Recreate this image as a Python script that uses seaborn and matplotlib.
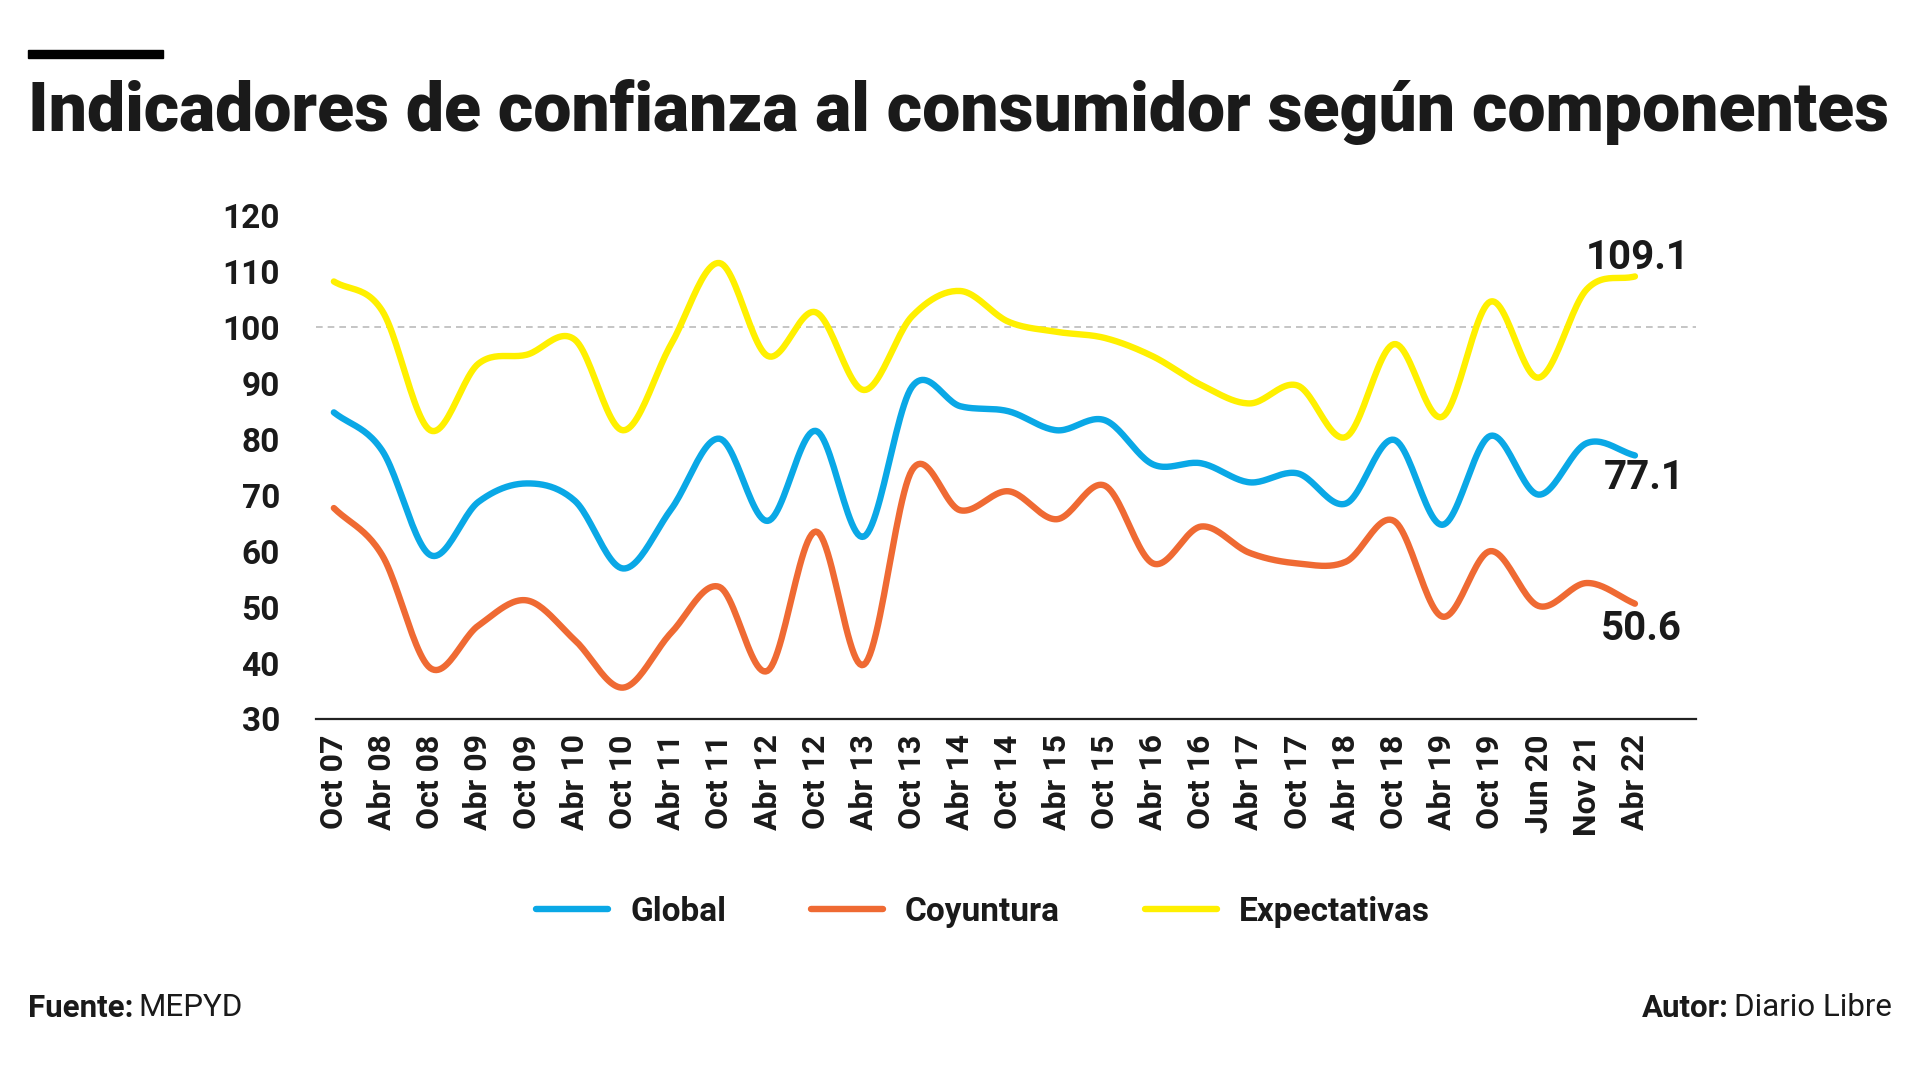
import matplotlib
matplotlib.use('Agg')
import matplotlib.pyplot as plt
import numpy as np
import pandas as pd
import seaborn as sns

periodos = ["Oct 07", "Abr 08", "Oct 08", "Abr 09", "Oct 09", "Abr 10", "Oct 10",
            "Abr 11", "Oct 11", "Abr 12", "Oct 12", "Abr 13", "Oct 13", "Abr 14",
            "Oct 14", "Abr 15", "Oct 15", "Abr 16", "Oct 16", "Abr 17", "Oct 17",
            "Abr 18", "Oct 18", "Abr 19", "Oct 19", "Jun 20", "Nov 21", "Abr 22"]

global_ = [84.8, 78.0, 59.3, 68.8, 72.1, 69.0, 56.9, 67.5, 80.1, 65.4, 81.5, 62.6, 89.4, 85.9,
           85.0, 81.6, 83.4, 75.5, 75.7, 72.3, 73.9, 68.5, 79.9, 64.7, 80.6, 70.1, 79.3, 77.1]
coyuntura = [67.7, 59.3, 39.1, 46.7, 51.2, 44.1, 35.6, 45.4, 53.6, 38.6, 63.5, 39.7, 74.5, 67.3,
             70.7, 65.7, 71.7, 57.8, 64.4, 59.7, 57.8, 58.1, 65.4, 48.3, 60.0, 50.2, 54.3, 50.6]
expectativas = [108.2, 103.0, 81.6, 93.5, 95.1, 97.8, 81.6, 97.0, 111.5, 94.9, 102.7, 88.8, 102.0, 106.5,
                101.0, 99.2, 98.1, 94.8, 89.7, 86.4, 89.6, 80.4, 97.0, 84.0, 104.6, 91.0, 106.8, 109.1]

series = {"Global": global_, "Coyuntura": coyuntura, "Expectativas": expectativas}
colores = {"Global": "#0AA8E6", "Coyuntura": "#EF6A33", "Expectativas": "#FFF000"}

FONT = ['Roboto', 'DejaVu Sans']
W, H = 1920, 1080


def suavizar(y, n=24):
	# curva tipo spline (Catmull-Rom) solo para el trazo
	y = np.asarray(y, dtype=float)
	yp = np.concatenate([[2 * y[0] - y[1]], y, [2 * y[-1] - y[-2]]])
	xs, ys = [], []
	for i in range(len(y) - 1):
		p0, p1, p2, p3 = yp[i], yp[i + 1], yp[i + 2], yp[i + 3]
		t = np.linspace(0, 1, n, endpoint=False)
		m1 = (p2 - p0) / 2
		m2 = (p3 - p1) / 2
		h00 = 2 * t**3 - 3 * t**2 + 1
		h10 = t**3 - 2 * t**2 + t
		h01 = -2 * t**3 + 3 * t**2
		h11 = t**3 - t**2
		xs.append(i + t)
		ys.append(h00 * p1 + h10 * m1 + h01 * p2 + h11 * m2)
	xs.append([len(y) - 1])
	ys.append([y[-1]])
	return np.concatenate(xs), np.concatenate(ys)


sns.set_style('white')
plt.rcParams['font.family'] = FONT

fig = plt.figure(figsize=(19.2, 10.8), dpi=100)
ax = fig.add_axes([0.1646, 0.3343, 0.7188, 0.4662])
renderer = fig.canvas.get_renderer()

ax.axhline(100, color='#bbbbbb', lw=1.2, ls=(0, (4, 3)), zorder=1)

for nombre, vals in series.items():
	xs, ys = suavizar(vals)
	df = pd.DataFrame({'x': xs, 'y': ys})
	sns.lineplot(data=df, x='x', y='y', ax=ax, color=colores[nombre], lw=4.6,
	             sort=False, estimator=None, label=nombre, zorder=3,
	             solid_capstyle='round')

ax.set_xlim(-0.37, 28.27)
ax.set_ylim(30, 120)
ax.set_yticks(range(30, 121, 10))
ax.set_yticklabels([str(v) for v in range(30, 121, 10)], fontsize=24, fontweight='bold', color='#1a1a1a')
ax.set_xticks(range(len(periodos)))
ax.set_xticklabels(periodos, rotation=90, fontsize=23, fontweight='bold', color='#1a1a1a', va='top')
ax.tick_params(axis='y', length=0, pad=26)
ax.tick_params(axis='x', length=0, pad=11)
ax.set_xlabel('')
ax.set_ylabel('')
for s in ['top', 'right', 'left']:
	ax.spines[s].set_visible(False)
ax.spines['bottom'].set_color('#222222')
ax.spines['bottom'].set_linewidth(1.6)

# valores finales
n = len(periodos) - 1
ax.annotate('109.1', (n, expectativas[-1]), xytext=(55, 18), textcoords='offset pixels',
            ha='right', va='center', fontsize=29, fontweight='bold', color='#1a1a1a')
ax.annotate('77.1', (n, global_[-1]), xytext=(50, -23), textcoords='offset pixels',
            ha='right', va='center', fontsize=29, fontweight='bold', color='#1a1a1a')
ax.annotate('50.6', (n, coyuntura[-1]), xytext=(47, -25), textcoords='offset pixels',
            ha='right', va='center', fontsize=29, fontweight='bold', color='#1a1a1a')

handles, labels = ax.get_legend_handles_labels()
ax.get_legend().remove()
leg = fig.legend(handles, labels, loc='center', bbox_to_anchor=(0.512, 0.1556), ncol=3,
                 frameon=False, handlelength=2.16, handletextpad=0.66, columnspacing=2.54,
                 prop={'family': FONT, 'size': 24, 'weight': 'bold'})
for t in leg.get_texts():
	t.set_color('#1a1a1a')

# titulo y barra
fig.patches.append(plt.Rectangle((28 / W, 1 - 58 / H), 135 / W, 8 / H,
                                 transform=fig.transFigure, color='black'))
titulo = fig.text(28 / W, 1 - 131 / H, 'Indicadores de confianza al consumidor según componentes',
                  fontsize=53, fontweight='heavy', color='#1a1a1a', ha='left', va='baseline')
ancho = titulo.get_window_extent(renderer).width
titulo.set_fontsize(53 * 1862 / ancho)

# pie
def pie(x, y, negrita, normal, derecha=False):
	t1 = fig.text(x / W, 1 - y / H, negrita, fontsize=22.5, fontweight='bold', color='#1a1a1a',
	              ha='left', va='center')
	t2 = fig.text(x / W, 1 - y / H, normal, fontsize=22.5, color='#1a1a1a', ha='left', va='center')
	w1 = t1.get_window_extent(renderer).width
	w2 = t2.get_window_extent(renderer).width
	x0 = x - (w1 + 5 + w2) if derecha else x
	t1.set_x(x0 / W)
	t2.set_x((x0 + w1 + 5) / W)

pie(28, 1008, 'Fuente:', 'MEPYD')
pie(1892, 1008, 'Autor:', 'Diario Libre', derecha=True)

plt.savefig('out.png', dpi=100)
